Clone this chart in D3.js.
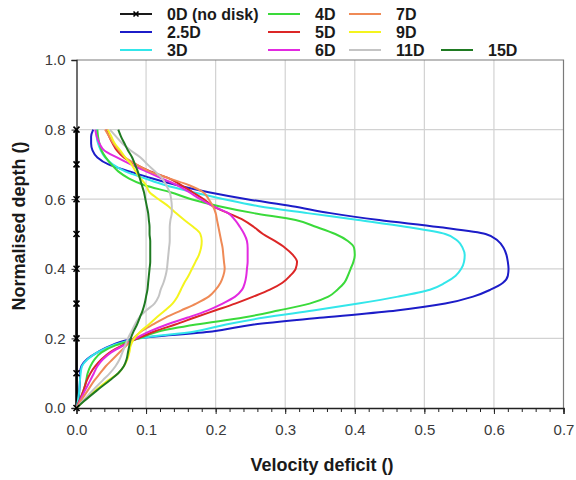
<!DOCTYPE html>
<html>
<head>
<meta charset="utf-8">
<script src="https://cdn.jsdelivr.net/npm/d3@7"></script>
<style>
  html, body { margin: 0; padding: 0; background: #fff; }
  svg { display: block; }
  text { font-family: "Liberation Sans", Arial, sans-serif; }
</style>
</head>
<body>
<svg id="chart" width="576" height="480"></svg>
<script>
// Normalised depth at which every wake profile is sampled
const depths = [0, 0.02, 0.05, 0.08, 0.10, 0.12, 0.14, 0.16, 0.18, 0.20,
  0.22, 0.24, 0.26, 0.28, 0.30, 0.32, 0.34, 0.36, 0.38, 0.40,
  0.42, 0.44, 0.46, 0.48, 0.50, 0.52, 0.54, 0.56, 0.58, 0.60,
  0.62, 0.64, 0.66, 0.68, 0.70, 0.72, 0.74, 0.76, 0.78, 0.80];

// Undisturbed profile (no disk): sampled every 0.1 of depth
const noDiskDepths = [0, 0.1, 0.2, 0.3, 0.4, 0.5, 0.6, 0.7, 0.8];
const noDiskDeficit = [0, 0, 0, 0, 0, 0, 0, 0, 0];

// Velocity deficit at each depth, per downstream distance
const def2_5D = [0.000, 0.003, 0.004, 0.005, 0.005, 0.007, 0.015, 0.030, 0.050, 0.085,
  0.195, 0.255, 0.355, 0.460, 0.530, 0.570, 0.595, 0.613, 0.620, 0.621,
  0.620, 0.618, 0.614, 0.606, 0.588, 0.520, 0.435, 0.365, 0.310, 0.245,
  0.190, 0.145, 0.108, 0.076, 0.046, 0.030, 0.023, 0.021, 0.021, 0.024];
const def3D = [0.000, 0.002, 0.004, 0.005, 0.006, 0.008, 0.016, 0.030, 0.052, 0.090,
  0.170, 0.215, 0.270, 0.340, 0.405, 0.462, 0.508, 0.530, 0.545, 0.553,
  0.557, 0.558, 0.555, 0.548, 0.530, 0.475, 0.405, 0.332, 0.262, 0.212,
  0.168, 0.128, 0.098, 0.070, 0.052, 0.041, 0.035, 0.031, 0.029, 0.029];
const def4D = [0.000, 0.004, 0.010, 0.014, 0.016, 0.020, 0.026, 0.036, 0.056, 0.090,
  0.118, 0.172, 0.240, 0.290, 0.335, 0.362, 0.375, 0.385, 0.390, 0.394,
  0.398, 0.400, 0.399, 0.390, 0.372, 0.345, 0.315, 0.255, 0.205, 0.165,
  0.135, 0.098, 0.075, 0.060, 0.050, 0.042, 0.036, 0.033, 0.031, 0.030];
const def5D = [0.000, 0.004, 0.010, 0.015, 0.020, 0.027, 0.036, 0.048, 0.066, 0.088,
  0.112, 0.142, 0.170, 0.199, 0.228, 0.254, 0.278, 0.296, 0.307, 0.315,
  0.317, 0.311, 0.300, 0.285, 0.268, 0.255, 0.240, 0.218, 0.196, 0.183,
  0.167, 0.151, 0.133, 0.106, 0.085, 0.068, 0.058, 0.052, 0.047, 0.043];
const def6D = [0.000, 0.005, 0.012, 0.020, 0.025, 0.030, 0.038, 0.050, 0.068, 0.085,
  0.105, 0.130, 0.160, 0.188, 0.210, 0.228, 0.238, 0.242, 0.244, 0.245,
  0.246, 0.246, 0.246, 0.245, 0.241, 0.235, 0.228, 0.218, 0.196, 0.178,
  0.162, 0.145, 0.122, 0.100, 0.078, 0.058, 0.040, 0.033, 0.029, 0.027];
const def7D = [0.000, 0.006, 0.016, 0.026, 0.034, 0.042, 0.052, 0.062, 0.072, 0.082,
  0.093, 0.110, 0.128, 0.150, 0.172, 0.190, 0.200, 0.207, 0.211, 0.213,
  0.212, 0.211, 0.210, 0.208, 0.206, 0.204, 0.202, 0.200, 0.196, 0.190,
  0.182, 0.162, 0.133, 0.105, 0.086, 0.070, 0.061, 0.053, 0.047, 0.041];
const def9D = [0.000, 0.010, 0.027, 0.046, 0.060, 0.068, 0.073, 0.076, 0.078, 0.083,
  0.092, 0.104, 0.115, 0.127, 0.138, 0.145, 0.150, 0.155, 0.161, 0.166,
  0.171, 0.176, 0.179, 0.180, 0.178, 0.168, 0.155, 0.143, 0.132, 0.118,
  0.105, 0.100, 0.092, 0.085, 0.079, 0.070, 0.063, 0.055, 0.050, 0.045];
const def11D = [0.000, 0.009, 0.023, 0.038, 0.048, 0.056, 0.062, 0.066, 0.070, 0.074,
  0.079, 0.084, 0.090, 0.100, 0.112, 0.118, 0.121, 0.125, 0.128, 0.130,
  0.131, 0.132, 0.133, 0.134, 0.134, 0.134, 0.135, 0.137, 0.137, 0.136,
  0.134, 0.129, 0.123, 0.113, 0.102, 0.092, 0.078, 0.066, 0.057, 0.048];
const def15D = [0.000, 0.011, 0.029, 0.048, 0.060, 0.068, 0.072, 0.074, 0.076, 0.078,
  0.082, 0.087, 0.091, 0.095, 0.098, 0.100, 0.102, 0.103, 0.104, 0.105,
  0.106, 0.106, 0.106, 0.106, 0.105, 0.105, 0.104, 0.103, 0.101, 0.099,
  0.097, 0.094, 0.091, 0.088, 0.084, 0.080, 0.074, 0.069, 0.064, 0.060];

const seriesNames = ["2.5D", "3D", "4D", "5D", "6D", "7D", "9D", "11D", "15D"];
const seriesValues = [def2_5D, def3D, def4D, def5D, def6D, def7D, def9D, def11D, def15D];
const seriesColors = ["#1c1cc8", "#33e6ea", "#3ada3a", "#dc2626", "#e22ae0",
  "#ef8a56", "#f4f41e", "#c4c4c4", "#1f7a22"];

const xTicks = [0.0, 0.1, 0.2, 0.3, 0.4, 0.5, 0.6, 0.7];
const yTicks = [0.0, 0.2, 0.4, 0.6, 0.8, 1.0];

const svg = d3.select("#chart");
const plotLeft = 76.5, plotRight = 563.5, plotTop = 60, plotBottom = 408;

const x = d3.scaleLinear().domain([0, 0.7]).range([plotLeft, plotRight]);
const y = d3.scaleLinear().domain([0, 1.0]).range([plotBottom, plotTop]);

// grid
const grid = svg.append("g");
grid.selectAll("line.vx").data(xTicks.slice(1, -1)).join("line")
  .attr("x1", d => x(d)).attr("x2", d => x(d))
  .attr("y1", plotTop).attr("y2", plotBottom)
  .attr("stroke", "#d2d2d2").attr("stroke-width", 1.2);
grid.selectAll("line.hy").data(yTicks.slice(1, -1)).join("line")
  .attr("x1", plotLeft).attr("x2", plotRight)
  .attr("y1", d => y(d)).attr("y2", d => y(d))
  .attr("stroke", "#d2d2d2").attr("stroke-width", 1.2);

// frame (top and right)
svg.append("path")
  .attr("d", `M${plotLeft},${plotTop}H${plotRight}V${plotBottom}`)
  .attr("fill", "none").attr("stroke", "#7a7a7a").attr("stroke-width", 1.2);

// x axis with minor ticks
const xMinor = svg.append("g").attr("transform", `translate(0,${plotBottom})`)
  .call(d3.axisBottom(x).tickValues(d3.range(0, 0.7001, 0.02)).tickSize(4).tickFormat(""));
xMinor.select(".domain").remove();
xMinor.selectAll(".tick line").attr("stroke", "#222");
const xMajor = svg.append("g").attr("transform", `translate(0,${plotBottom})`)
  .call(d3.axisBottom(x).tickValues(xTicks).tickSize(6).tickPadding(10).tickFormat(d3.format(".1f")));
xMajor.select(".domain").attr("stroke", "#222").attr("stroke-width", 1.3);
xMajor.selectAll(".tick line").attr("stroke", "#222");
xMajor.selectAll(".tick text").attr("font-size", 15).attr("fill", "#3a3a3a")
  .attr("font-family", "'Liberation Sans', Arial, sans-serif");

// y axis
const yAxisG = svg.append("g").attr("transform", `translate(${plotLeft},0)`)
  .call(d3.axisLeft(y).tickValues(yTicks).tickSize(5).tickPadding(6).tickFormat(d3.format(".1f")));
yAxisG.select(".domain").attr("stroke", "#222").attr("stroke-width", 1.3);
yAxisG.selectAll(".tick line").attr("stroke", "#222");
yAxisG.selectAll(".tick text").attr("font-size", 15).attr("fill", "#3a3a3a")
  .attr("font-family", "'Liberation Sans', Arial, sans-serif");

// axis titles
svg.append("text").attr("x", 322).attr("y", 471)
  .attr("text-anchor", "middle").attr("font-size", 18).attr("font-weight", "bold")
  .attr("fill", "#1a1a1a").text("Velocity deficit ()");
svg.append("text").attr("transform", `translate(25,226) rotate(-90)`)
  .attr("text-anchor", "middle").attr("font-size", 18).attr("font-weight", "bold")
  .attr("fill", "#1a1a1a").text("Normalised depth ()");

// profiles
const line = d3.line()
  .x(d => x(d[0])).y(d => y(d[1]))
  .curve(d3.curveMonotoneY);

const plot = svg.append("g");

// no-disk reference profile
plot.append("path")
  .attr("d", line(noDiskDepths.map((dp, i) => [noDiskDeficit[i], dp])))
  .attr("fill", "none").attr("stroke", "#000").attr("stroke-width", 2.6);

seriesValues.forEach((vals, k) => {
  plot.append("path")
    .attr("d", line(depths.map((dp, i) => [vals[i], dp])))
    .attr("fill", "none").attr("stroke", seriesColors[k])
    .attr("stroke-width", 2).attr("stroke-linejoin", "round");
});

// markers on the no-disk profile
function crossMark(g, cx, cy, s) {
  g.append("path")
    .attr("d", `M${cx - s},${cy - s}L${cx + s},${cy + s}M${cx - s},${cy + s}L${cx + s},${cy - s}`)
    .attr("stroke", "#000").attr("stroke-width", 1.6).attr("fill", "none");
}
noDiskDepths.forEach((dp, i) => crossMark(plot, x(noDiskDeficit[i]), y(dp), 3));

// legend
const legendEntries = [
  { name: "0D (no disk)", color: "#000", col: 0, row: 0, marker: true },
  { name: seriesNames[0], color: seriesColors[0], col: 0, row: 1 },
  { name: seriesNames[1], color: seriesColors[1], col: 0, row: 2 },
  { name: seriesNames[2], color: seriesColors[2], col: 1, row: 0 },
  { name: seriesNames[3], color: seriesColors[3], col: 1, row: 1 },
  { name: seriesNames[4], color: seriesColors[4], col: 1, row: 2 },
  { name: seriesNames[5], color: seriesColors[5], col: 2, row: 0 },
  { name: seriesNames[6], color: seriesColors[6], col: 2, row: 1 },
  { name: seriesNames[7], color: seriesColors[7], col: 2, row: 2 },
  { name: seriesNames[8], color: seriesColors[8], col: 3, row: 2 }
];
const colX = [120, 268, 349, 441];
const rowY = [14, 32, 50];
const legend = svg.append("g");
legendEntries.forEach(e => {
  const lx = colX[e.col], ly = rowY[e.row];
  legend.append("line").attr("x1", lx).attr("x2", lx + 32)
    .attr("y1", ly).attr("y2", ly)
    .attr("stroke", e.color).attr("stroke-width", e.marker ? 1.8 : 2);
  if (e.marker) crossMark(legend, lx + 16, ly, 2.5);
  legend.append("text").attr("x", lx + 47).attr("y", ly)
    .attr("dy", "0.36em").attr("font-size", 16).attr("font-weight", "bold")
    .attr("fill", "#1a1a1a").text(e.name);
});
</script>
</body>
</html>
